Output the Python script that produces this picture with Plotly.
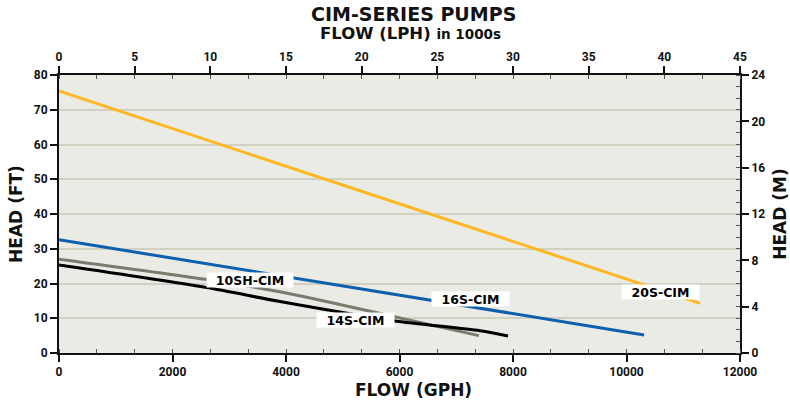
import plotly.graph_objects as go

# ---- data (flow in GPH, head in FT) ----
s20_flow = [0, 11295]
s20_head = [75.4, 14.3]

s16_flow = [0, 10310]
s16_head = [32.6, 5.2]

sh10_flow = [0, 2573, 3894, 5891, 7400]
sh10_head = [27.0, 21.2, 17.6, 10.5, 5.0]

s14_flow = [0, 2573, 3894, 5891, 7418, 7912]
s14_head = [25.3, 18.9, 14.8, 9.3, 6.4, 4.9]

series_names = ["20S-CIM", "16S-CIM", "10SH-CIM", "14S-CIM"]
series_colors = ["#FBB824", "#0E5FAD", "#7A7A6E", "#000000"]

label_text = ["10SH-CIM", "14S-CIM", "16S-CIM", "20S-CIM"]
label_flow = [3366, 5225, 7251, 10599]
label_head = [21.0, 9.6, 15.4, 17.6]

gph_ticks = [0, 2000, 4000, 6000, 8000, 10000, 12000]
ft_ticks = [0, 10, 20, 30, 40, 50, 60, 70, 80]
lph_ticks = [0, 5, 10, 15, 20, 25, 30, 35, 40, 45]
m_ticks = [0, 4, 8, 12, 16, 20, 24]

COND = "Roboto, Liberation Sans Narrow, sans-serif"
WIDE = "DejaVu Sans, Verdana, sans-serif"

fig = go.Figure()
for fx, hy, nm, col in [(s20_flow, s20_head, series_names[0], series_colors[0]),
                        (s16_flow, s16_head, series_names[1], series_colors[1]),
                        (sh10_flow, sh10_head, series_names[2], series_colors[2]),
                        (s14_flow, s14_head, series_names[3], series_colors[3])]:
    fig.add_trace(go.Scatter(x=fx, y=hy, mode="lines", name=nm,
                             line=dict(color=col, width=3, shape="spline", smoothing=0.8),
                             hoverinfo="skip", showlegend=False))

# invisible trace to carry secondary axes
fig.add_trace(go.Scatter(x=[lph_ticks[0], lph_ticks[-1]], y=[m_ticks[0], m_ticks[-1]],
                         xaxis="x2", yaxis="y2", mode="markers",
                         marker=dict(opacity=0), hoverinfo="skip", showlegend=False))

for t, fx, hy in zip(label_text, label_flow, label_head):
    fig.add_annotation(x=fx, y=hy, text=t, showarrow=False, bgcolor="white",
                       borderpad=0, width=9 * len(t) + 14, height=14,
                       font=dict(family=WIDE, size=12.5, color="black", weight=700))

tickfont = dict(family=COND, size=12, color="#111", weight=700)
axis_common = dict(showline=True, linecolor="#111", linewidth=2, ticks="outside",
                   ticklen=7, tickwidth=2, tickcolor="#111", zeroline=False,
                   tickfont=tickfont, automargin=False)

fig.update_layout(
    width=790, height=402,
    margin=dict(l=59, r=50, t=75, b=49),
    paper_bgcolor="white", plot_bgcolor="#EBEBE5",
    xaxis=dict(range=[0, 12000], tickvals=gph_ticks, showgrid=False,
               minor=dict(dtick=2000 / 3, ticks="inside", ticklen=4, tickcolor="#555", tickwidth=1),
               tickformat="d", **axis_common),
    yaxis=dict(range=[0, 80], tickvals=ft_ticks, showgrid=True, gridcolor="#D2D0C3", gridwidth=2,
               title=dict(text="HEAD (FT)", font=dict(family=WIDE, size=17, color="#111", weight=700), standoff=7),
               **axis_common),
    xaxis2=dict(range=[0, 45], tickvals=lph_ticks, overlaying="x", side="top", anchor="y",
                showgrid=False,
                minor=dict(dtick=2.5, ticks="inside", ticklen=4, tickcolor="#555", tickwidth=1),
                **axis_common),
    yaxis2=dict(range=[0, 24], tickvals=m_ticks, overlaying="y", side="right", anchor="x",
                showgrid=False,
                minor=dict(dtick=1, ticks="inside", ticklen=4, tickcolor="#555", tickwidth=1),
                title=dict(text="HEAD (M)", font=dict(family=WIDE, size=17, color="#111", weight=700), standoff=12),
                **axis_common),
)

fig.add_annotation(x=0.52, y=0, xref="paper", yref="paper", yanchor="middle",
                   yshift=-37, showarrow=False, text="FLOW (GPH)",
                   font=dict(family=WIDE, size=17, color="#111", weight=700))
fig.add_annotation(x=0.5206, y=1, xref="paper", yref="paper", yanchor="middle",
                   yshift=61, showarrow=False,
                   text="CIM-SERIES PUMPS",
                   font=dict(family=WIDE, size=19, color="#111", weight=700))
fig.add_annotation(x=0.516, y=1, xref="paper", yref="paper", yanchor="middle",
                   yshift=42, showarrow=False,
                   text="FLOW (LPH) <span style='font-size:13.5px'>in 1000s</span>",
                   font=dict(family=WIDE, size=16.5, color="#111", weight=700))

fig.write_html("out.html", post_script="document.body.style.margin='0';",
               config={"displayModeBar": False})
